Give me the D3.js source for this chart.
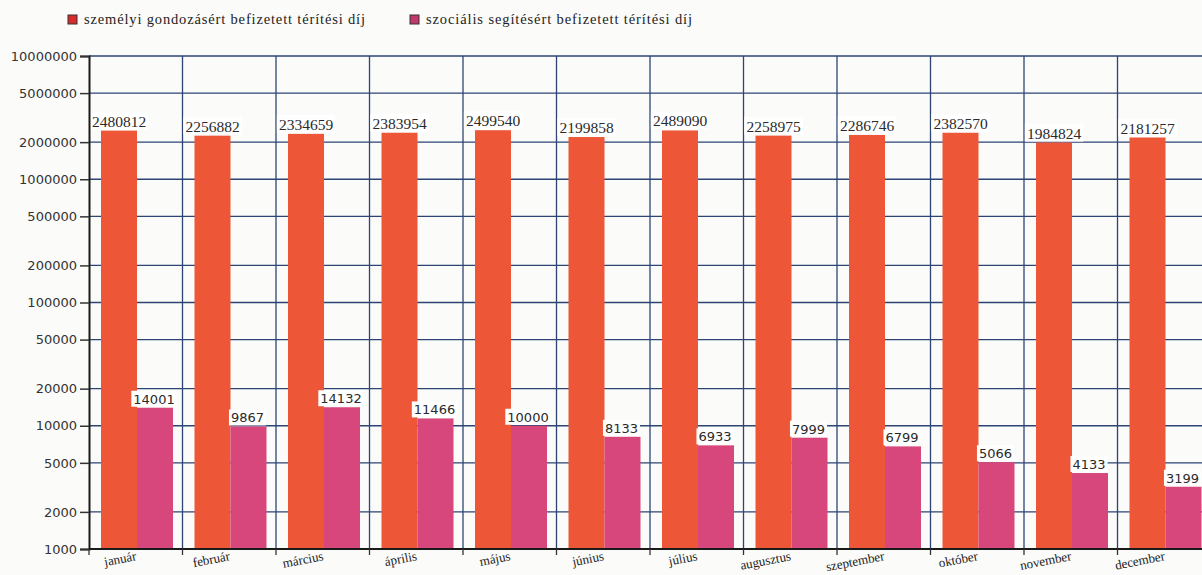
<!DOCTYPE html>
<html><head><meta charset="utf-8">
<script src="https://cdn.jsdelivr.net/npm/d3@7"></script>
<style>
html,body{margin:0;padding:0;background:#fbfbf9;}
svg{display:block;}
</style></head>
<body><svg id="c" width="1202" height="575"></svg>
<script>
const months = ["január","február","március","április","május","június","július","augusztus","szeptember","október","november","december"];
const seriesNames = ["személyi gondozásért befizetett térítési díj","szociális segítésért befizetett térítési díj"];
const personalCare = [2480812,2256882,2334659,2383954,2499540,2199858,2489090,2258975,2286746,2382570,1984824,2181257];
const socialHelp = [14001,9867,14132,11466,10000,8133,6933,7999,6799,5066,4133,3199];
const yTicks = [1000,2000,5000,10000,20000,50000,100000,200000,500000,1000000,2000000,5000000,10000000];

const colors = ["#ee5638","#d8477b"];
const legendColors = ["#d92b2b","#c2386b"];
const gridColor = "#2d4575";

const svg = d3.select("#c");
const pLeft = 89, pTop = 56, pBottom = 549, pRight = 1211;

const x = d3.scaleBand().domain(months).range([pLeft, pRight]).padding(0);
const xi = d3.scaleBand().domain([0,1]).range([12, 84]).padding(0);
const y = d3.scaleLog().domain([1000, 10000000]).range([pBottom, pTop]);

// horizontal grid
svg.append("g").selectAll("line").data(yTicks).join("line")
  .attr("x1", pLeft).attr("x2", 1202)
  .attr("y1", d => y(d)).attr("y2", d => y(d))
  .attr("stroke", gridColor).attr("stroke-width", 1.3);
// vertical grid
svg.append("g").selectAll("line").data(months.slice(1)).join("line")
  .attr("x1", d => x(d)).attr("x2", d => x(d))
  .attr("y1", pTop).attr("y2", pBottom)
  .attr("stroke", gridColor).attr("stroke-width", 1.3);

const data = [personalCare, socialHelp];
data.forEach((vals, si) => {
  svg.append("g").selectAll("rect").data(vals).join("rect")
    .attr("x", (d,i) => x(months[i]) + xi(si))
    .attr("width", xi.bandwidth())
    .attr("y", d => y(d))
    .attr("height", d => pBottom - y(d))
    .attr("fill", colors[si]);
});

// value labels
data.forEach((vals, si) => {
  const g = svg.append("g");
  vals.forEach((d,i) => {
    const cx = x(months[i]) + xi(si) + xi.bandwidth()/2 - (si===1 ? 1 : 0);
    const by = y(d) - 4;
    const t = g.append("text").attr("x", cx).attr("y", by)
      .attr("text-anchor","middle")
      .attr("font-family", si===0 ? "Liberation Serif, serif" : "DejaVu Sans, sans-serif")
      .attr("font-size", si===0 ? 15.5 : 13)
      .attr("fill", "#2a2a2a").text(d);
    const bb = t.node().getBBox();
    g.insert("rect", () => t.node())
      .attr("x", bb.x - 2).attr("y", bb.y - 1)
      .attr("width", bb.width + 4).attr("height", bb.height + 1)
      .attr("fill", "#ffffff");
  });
});

// y axis
const yAxis = d3.axisLeft(y).tickValues(yTicks).tickFormat(d3.format("d")).tickSize(9).tickPadding(3);
const ya = svg.append("g").attr("transform", `translate(${pLeft},0)`).call(yAxis);
ya.select(".domain").attr("stroke", "#1a1a1a").attr("stroke-width", 2);
ya.selectAll(".tick line").attr("stroke", "#333").attr("stroke-width", 1.5);
ya.selectAll(".tick text").attr("font-family", "DejaVu Sans, sans-serif").attr("font-size", 13).attr("fill", "#333");

// x axis
const xa = svg.append("g");
xa.append("line").attr("x1", pLeft).attr("x2", 1202).attr("y1", pBottom).attr("y2", pBottom)
  .attr("stroke", "#1a1a1a").attr("stroke-width", 2.2);
xa.selectAll(".tk").data(months).join("line").attr("class","tk")
  .attr("x1", d => x(d)).attr("x2", d => x(d)).attr("y1", pBottom).attr("y2", pBottom + 6)
  .attr("stroke", "#333").attr("stroke-width", 1.3);
xa.selectAll("text").data(months).join("text")
  .attr("transform", d => `translate(${x(d) + 48},${pBottom + 11}) rotate(-11)`)
  .attr("text-anchor", "end")
  .attr("font-family", "Liberation Serif, serif").attr("font-size", 13).attr("fill", "#222")
  .text(d => d);

// legend
const lg = svg.append("g");
const legX = [68, 410];
const legW = [281, 266];
seriesNames.forEach((n, i) => {
  lg.append("rect").attr("x", legX[i]).attr("y", 15).attr("width", 9).attr("height", 9)
    .attr("fill", legendColors[i]).attr("stroke", "#333").attr("stroke-width", 1);
  lg.append("text").attr("x", legX[i] + 16).attr("y", 24)
    .attr("font-family", "Liberation Serif, serif").attr("font-size", 14.5).attr("fill", "#222")
    .attr("textLength", legW[i]).attr("lengthAdjust", "spacing").text(n);
});
</script></body></html>
